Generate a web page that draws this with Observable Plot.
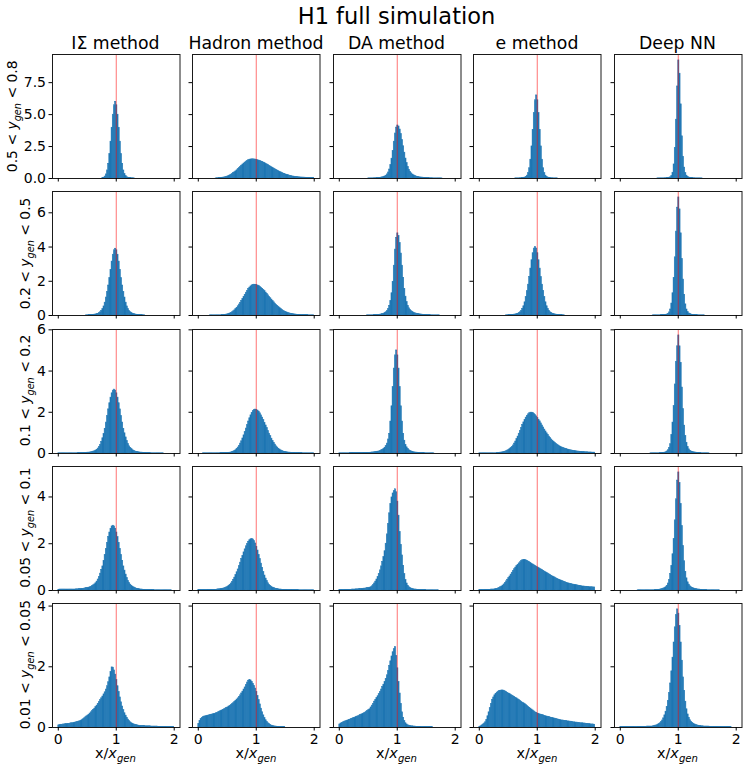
<!DOCTYPE html>
<html>
<head>
<meta charset="utf-8">
<script src="https://cdn.jsdelivr.net/npm/d3@7"></script>
<script src="https://cdn.jsdelivr.net/npm/@observablehq/plot@0.6"></script>
<style>
  body { margin: 0; background: #fff; }
  #chart { position: relative; width: 747px; height: 770px; background: #fff; font-family: "DejaVu Sans", sans-serif; }
</style>
</head>
<body>
<div id="chart"></div>
<script>
// ---------- labels ----------
const figTitle = "H1 full simulation";
const methods = ["IΣ method", "Hadron method", "DA method", "e method", "Deep NN"];
const yGenBins = [["0.5", "0.8"], ["0.2", "0.5"], ["0.1", "0.2"], ["0.05", "0.1"], ["0.01", "0.05"]];
const xTicks = [0, 1, 2];
const yTicks = [[0, 2.5, 5, 7.5], [0, 2, 4, 6], [0, 2, 4, 6], [0, 2, 4], [0, 2, 4]];
const binWidth = 0.02;   // 100 bins on [0, 2]
const refX = 1;

// ---------- densities per bin (rows: 0.5-0.8, 0.2-0.5, 0.1-0.2, 0.05-0.1, 0.01-0.05) ----------
const isigma = [
 [0,0,0,0,0,0,0,0,0,0,
  0,0,0,0,0,0,0,0,0,0,
  0,0,0,0,0,0,0,0,0,0,
  0,0,0,0,0,0,0,0,0.03,0.06,
  0.15,0.32,0.63,1.15,1.91,2.88,3.97,4.99,5.73,6.0,
  5.73,4.99,3.97,2.88,1.91,1.15,0.63,0.35,0.18,0.1,
  0.06,0.04,0.03,0.02,0.02,0.01,0,0,0,0,
  0,0,0,0,0,0,0,0,0,0,
  0,0,0,0,0,0,0,0,0,0,
  0,0,0,0,0,0,0,0,0,0],
 [0,0,0,0,0,0,0,0,0,0,
  0,0,0,0,0,0,0,0,0,0,
  0,0,0,0,0.01,0.01,0.02,0.02,0.03,0.03,
  0.04,0.05,0.06,0.08,0.1,0.14,0.19,0.26,0.37,0.53,
  0.75,1.05,1.38,1.75,2.18,2.67,3.15,3.55,3.81,3.9,
  3.81,3.55,3.15,2.67,2.18,1.75,1.38,1.05,0.75,0.53,
  0.37,0.26,0.19,0.14,0.1,0.08,0.06,0.05,0.04,0.03,
  0.03,0.02,0.02,0.01,0.01,0,0,0,0,0,
  0,0,0,0,0,0,0,0,0,0,
  0,0,0,0,0,0,0,0,0,0],
 [0.01,0.01,0.01,0.01,0.01,0.01,0.01,0.01,0.01,0.01,
  0.01,0.01,0.01,0.01,0.01,0.01,0.01,0.02,0.02,0.02,
  0.02,0.02,0.03,0.03,0.03,0.04,0.04,0.05,0.06,0.07,
  0.09,0.11,0.14,0.18,0.24,0.32,0.42,0.56,0.74,0.95,
  1.2,1.5,1.82,2.14,2.44,2.71,2.92,3.05,3.1,3.05,
  2.92,2.71,2.44,2.14,1.82,1.5,1.2,0.98,0.78,0.6,
  0.46,0.35,0.27,0.21,0.16,0.13,0.1,0.08,0.07,0.06,
  0.05,0.04,0.04,0.03,0.03,0.03,0.02,0.02,0.02,0.02,
  0.01,0.01,0.01,0.01,0.01,0.01,0.01,0.01,0.01,0.01,
  0.01,0,0,0,0,0,0,0,0,0],
 [0.03,0.04,0.04,0.04,0.04,0.04,0.04,0.04,0.04,0.04,
  0.04,0.04,0.04,0.04,0.04,0.05,0.05,0.05,0.06,0.06,
  0.07,0.07,0.08,0.09,0.1,0.11,0.12,0.14,0.16,0.19,
  0.22,0.26,0.31,0.38,0.47,0.58,0.72,0.88,1.03,1.27,
  1.52,1.78,2.04,2.28,2.48,2.64,2.74,2.77,2.74,2.64,
  2.48,2.28,2.04,1.78,1.52,1.27,1.03,0.85,0.68,0.53,
  0.41,0.32,0.25,0.2,0.16,0.13,0.1,0.08,0.07,0.06,
  0.05,0.04,0.04,0.03,0.03,0.02,0.02,0.02,0.02,0.02,
  0.02,0.02,0.02,0.01,0.01,0.01,0.01,0.01,0.01,0.01,
  0.01,0.01,0.01,0.01,0.01,0.01,0.01,0.01,0,0],
 [0.07,0.08,0.09,0.09,0.1,0.1,0.11,0.11,0.12,0.12,
  0.13,0.14,0.14,0.15,0.16,0.17,0.18,0.19,0.2,0.22,
  0.24,0.27,0.3,0.33,0.36,0.39,0.42,0.46,0.5,0.54,
  0.58,0.62,0.67,0.72,0.78,0.84,0.9,0.96,1.02,1.09,
  1.16,1.25,1.36,1.49,1.65,1.83,1.98,1.97,1.88,1.74,
  1.56,1.36,1.17,0.99,0.83,0.69,0.57,0.47,0.39,0.32,
  0.26,0.21,0.17,0.14,0.12,0.1,0.09,0.08,0.07,0.06,
  0.05,0.05,0.05,0.05,0.05,0.04,0.04,0.04,0.04,0.04,
  0.03,0.03,0.03,0.03,0.03,0.03,0.02,0.02,0.02,0.02,
  0.02,0.02,0.02,0.01,0.01,0.01,0.01,0.01,0.01,0.01]
];

const hadron = [
 [0,0,0,0,0,0,0,0,0,0,
  0,0,0,0,0,0.01,0.02,0.02,0.03,0.04,
  0.05,0.07,0.08,0.1,0.13,0.16,0.2,0.25,0.3,0.36,
  0.42,0.49,0.56,0.64,0.73,0.82,0.91,1.0,1.09,1.17,
  1.25,1.32,1.38,1.43,1.47,1.49,1.5,1.5,1.49,1.48,
  1.46,1.43,1.4,1.37,1.33,1.29,1.25,1.2,1.15,1.1,
  1.05,0.99,0.94,0.88,0.83,0.77,0.72,0.67,0.62,0.57,
  0.52,0.48,0.43,0.39,0.36,0.32,0.29,0.26,0.23,0.2,
  0.18,0.16,0.15,0.13,0.12,0.11,0.1,0.09,0.08,0.075,
  0.07,0.065,0.06,0.055,0.05,0.05,0.045,0.04,0.04,0.035],
 [0,0,0,0,0,0,0,0,0,0,
  0.01,0.01,0.01,0.01,0.01,0.01,0.01,0.01,0.01,0.01,
  0.02,0.02,0.03,0.04,0.05,0.07,0.09,0.12,0.15,0.19,
  0.24,0.3,0.37,0.45,0.54,0.64,0.74,0.85,0.97,1.09,
  1.21,1.33,1.44,1.54,1.63,1.7,1.76,1.79,1.8,1.79,
  1.78,1.75,1.72,1.67,1.62,1.56,1.49,1.42,1.34,1.26,
  1.18,1.09,1.01,0.93,0.84,0.77,0.69,0.62,0.55,0.49,
  0.43,0.38,0.33,0.28,0.24,0.21,0.18,0.15,0.13,0.11,
  0.09,0.08,0.07,0.06,0.05,0.04,0.04,0.03,0.03,0.02,
  0.02,0.02,0.02,0.02,0.02,0.01,0.01,0.01,0.01,0.01],
 [0,0,0,0,0.01,0.01,0.01,0.01,0.01,0.01,
  0.01,0.01,0.01,0.01,0.01,0.01,0.01,0.01,0.01,0.02,
  0.02,0.02,0.02,0.02,0.02,0.03,0.03,0.04,0.05,0.07,
  0.09,0.12,0.16,0.22,0.29,0.37,0.48,0.59,0.73,0.88,
  1.04,1.21,1.38,1.55,1.71,1.85,1.97,2.06,2.11,2.13,
  2.12,2.08,2.03,1.95,1.85,1.74,1.62,1.49,1.36,1.23,
  1.09,0.96,0.84,0.72,0.61,0.52,0.43,0.35,0.29,0.23,
  0.19,0.15,0.12,0.1,0.08,0.07,0.06,0.05,0.04,0.04,
  0.03,0.03,0.03,0.03,0.02,0.02,0.02,0.02,0.02,0.02,
  0.01,0.01,0.01,0.01,0.01,0.01,0.01,0.01,0.01,0.01],
 [0.02,0.02,0.02,0.02,0.02,0.02,0.02,0.02,0.03,0.03,
  0.03,0.03,0.03,0.03,0.03,0.03,0.04,0.05,0.05,0.06,
  0.07,0.08,0.09,0.11,0.13,0.16,0.2,0.24,0.3,0.37,
  0.45,0.55,0.66,0.78,0.9,1.04,1.19,1.34,1.48,1.63,
  1.76,1.89,1.99,2.08,2.15,2.19,2.2,2.18,2.11,2.01,
  1.87,1.71,1.52,1.34,1.15,0.96,0.79,0.64,0.51,0.4,
  0.31,0.24,0.19,0.15,0.12,0.1,0.08,0.07,0.06,0.05,
  0.04,0.04,0.03,0.03,0.03,0.03,0.03,0.02,0.02,0.02,
  0.02,0.02,0.02,0.02,0.02,0.02,0.02,0.01,0.01,0.01,
  0.01,0.01,0.01,0.01,0.01,0.01,0.01,0.01,0.01,0.01],
 [0.12,0.22,0.28,0.32,0.34,0.36,0.37,0.38,0.39,0.4,
  0.41,0.42,0.43,0.44,0.45,0.47,0.48,0.5,0.52,0.54,
  0.56,0.58,0.6,0.62,0.64,0.66,0.69,0.71,0.74,0.77,
  0.8,0.84,0.88,0.92,0.96,1.01,1.06,1.12,1.18,1.25,
  1.32,1.4,1.48,1.54,1.57,1.55,1.5,1.44,1.37,1.28,
  1.17,1.04,0.9,0.76,0.62,0.5,0.4,0.31,0.24,0.18,
  0.14,0.11,0.08,0.06,0.05,0.04,0.03,0.03,0.02,0.02,
  0.01,0.01,0.01,0.01,0.01,0,0,0,0,0,
  0,0,0,0,0,0,0,0,0,0,
  0,0,0,0,0,0,0,0,0,0]
];

const da = [
 [0,0,0,0,0,0,0,0,0,0,
  0,0,0,0,0,0,0,0,0,0,
  0,0,0,0,0,0.01,0.01,0.01,0.01,0.01,
  0.02,0.02,0.03,0.03,0.04,0.05,0.07,0.09,0.12,0.16,
  0.22,0.32,0.47,0.7,1.05,1.55,2.16,2.88,3.52,3.98,
  4.15,4.07,3.83,3.47,3.01,2.52,2.02,1.56,1.2,0.9,
  0.68,0.52,0.4,0.31,0.25,0.2,0.16,0.13,0.11,0.09,
  0.08,0.07,0.06,0.05,0.04,0.04,0.03,0.03,0.02,0.02,
  0.02,0.01,0.01,0.01,0.01,0.01,0.01,0.01,0.01,0,
  0,0,0,0,0,0,0,0,0,0],
 [0,0,0,0,0,0,0,0,0,0,
  0,0,0,0,0,0,0,0,0,0,
  0,0,0,0,0.01,0.01,0.01,0.01,0.01,0.01,
  0.02,0.02,0.03,0.03,0.04,0.05,0.06,0.08,0.1,0.14,
  0.19,0.26,0.38,0.56,0.85,1.3,1.97,2.91,3.85,4.54,
  4.8,4.65,4.23,3.62,2.91,2.2,1.56,1.1,0.78,0.56,
  0.42,0.32,0.25,0.2,0.16,0.13,0.11,0.09,0.08,0.07,
  0.06,0.05,0.04,0.04,0.03,0.03,0.02,0.02,0.02,0.01,
  0.01,0.01,0.01,0.01,0.01,0.01,0.01,0,0,0,
  0,0,0,0,0,0,0,0,0,0],
 [0.01,0.01,0.01,0.01,0.01,0.01,0.01,0.01,0.01,0.02,
  0.02,0.02,0.02,0.02,0.02,0.02,0.02,0.02,0.02,0.02,
  0.02,0.03,0.03,0.03,0.03,0.03,0.03,0.04,0.05,0.05,
  0.06,0.07,0.08,0.09,0.1,0.12,0.15,0.18,0.22,0.28,
  0.36,0.48,0.68,0.95,1.55,2.29,3.22,4.12,4.76,5.0,
  4.76,4.12,3.22,2.29,1.55,0.95,0.62,0.42,0.3,0.22,
  0.16,0.12,0.1,0.08,0.06,0.05,0.04,0.04,0.03,0.03,
  0.02,0.02,0.02,0.02,0.01,0.01,0.01,0.01,0.01,0.01,
  0.01,0.01,0,0,0,0,0,0,0,0,
  0,0,0,0,0,0,0,0,0,0],
 [0.02,0.02,0.02,0.02,0.02,0.03,0.03,0.03,0.03,0.03,
  0.03,0.04,0.04,0.04,0.05,0.05,0.05,0.06,0.06,0.07,
  0.07,0.08,0.08,0.09,0.1,0.11,0.12,0.14,0.18,0.23,
  0.3,0.38,0.47,0.58,0.71,0.86,1.03,1.22,1.43,1.68,
  2.0,2.4,2.85,3.3,3.7,3.98,4.15,4.25,4.33,4.2,
  3.8,3.2,2.5,1.95,1.5,1.05,0.7,0.45,0.3,0.2,
  0.14,0.1,0.08,0.06,0.05,0.04,0.04,0.03,0.03,0.02,
  0.02,0.02,0.02,0.02,0.02,0.01,0.01,0.01,0.01,0.01,
  0.01,0.01,0.01,0.01,0.01,0.01,0,0,0,0,
  0,0,0,0,0,0,0,0,0,0],
 [0.1,0.13,0.15,0.17,0.19,0.2,0.22,0.23,0.25,0.26,
  0.28,0.29,0.31,0.32,0.34,0.36,0.37,0.39,0.41,0.43,
  0.45,0.47,0.49,0.52,0.54,0.57,0.6,0.66,0.72,0.78,
  0.85,0.91,0.97,1.03,1.1,1.17,1.25,1.33,1.41,1.5,
  1.6,1.72,1.86,2.02,2.18,2.34,2.48,2.58,2.65,2.35,
  1.95,1.5,1.12,0.78,0.5,0.32,0.21,0.14,0.1,0.07,
  0.06,0.05,0.04,0.04,0.03,0.03,0.02,0.02,0.02,0.02,
  0.02,0.01,0.01,0.01,0.01,0.01,0.01,0.01,0.01,0.01,
  0.01,0,0,0,0,0,0,0,0,0,
  0,0,0,0,0,0,0,0,0,0]
];

const emethod = [
 [0,0,0,0,0,0,0,0,0,0,
  0,0,0,0,0,0,0,0,0,0,
  0,0,0,0,0,0,0,0,0,0,
  0,0.01,0.01,0.01,0.01,0.02,0.02,0.03,0.04,0.07,
  0.12,0.22,0.42,0.8,1.47,2.51,3.81,5.12,6.12,6.5,
  6.12,5.12,3.81,2.51,1.47,0.8,0.42,0.22,0.12,0.07,
  0.04,0.03,0.02,0.02,0.01,0.01,0.01,0.01,0,0,
  0,0,0,0,0,0,0,0,0,0,
  0,0,0,0,0,0,0,0,0,0,
  0,0,0,0,0,0,0,0,0,0],
 [0,0,0,0,0,0,0,0,0,0,
  0,0,0,0,0,0,0,0,0,0,
  0,0,0,0.01,0.01,0.02,0.02,0.03,0.03,0.04,
  0.05,0.06,0.08,0.1,0.14,0.19,0.27,0.38,0.54,0.77,
  1.08,1.42,1.8,2.24,2.74,3.23,3.64,3.91,4.0,3.91,
  3.64,3.23,2.74,2.24,1.8,1.42,1.08,0.77,0.54,0.38,
  0.27,0.19,0.14,0.1,0.08,0.06,0.05,0.04,0.03,0.03,
  0.02,0.02,0.01,0.01,0,0,0,0,0,0,
  0,0,0,0,0,0,0,0,0,0,
  0,0,0,0,0,0,0,0,0,0],
 [0.01,0.01,0.01,0.01,0.01,0.01,0.01,0.01,0.01,0.01,
  0.01,0.01,0.01,0.01,0.01,0.02,0.02,0.03,0.04,0.05,
  0.06,0.07,0.09,0.11,0.14,0.17,0.21,0.26,0.32,0.39,
  0.48,0.58,0.7,0.82,0.96,1.1,1.24,1.38,1.51,1.63,
  1.74,1.83,1.9,1.95,1.98,1.98,1.96,1.92,1.86,1.8,
  1.72,1.64,1.56,1.46,1.36,1.26,1.16,1.07,0.98,0.9,
  0.82,0.75,0.68,0.62,0.57,0.52,0.47,0.43,0.39,0.35,
  0.32,0.29,0.27,0.25,0.23,0.21,0.19,0.18,0.16,0.15,
  0.14,0.13,0.12,0.11,0.1,0.09,0.09,0.08,0.08,0.07,
  0.07,0.06,0.06,0.06,0.05,0.05,0.05,0.04,0.04,0.04],
 [0.02,0.02,0.02,0.02,0.02,0.03,0.03,0.03,0.03,0.03,
  0.04,0.04,0.04,0.05,0.06,0.07,0.09,0.11,0.14,0.17,
  0.21,0.26,0.32,0.39,0.46,0.53,0.6,0.68,0.76,0.84,
  0.91,0.98,1.04,1.1,1.16,1.21,1.26,1.29,1.31,1.31,
  1.29,1.27,1.24,1.21,1.18,1.14,1.11,1.08,1.05,1.02,
  0.99,0.96,0.93,0.9,0.87,0.84,0.81,0.78,0.75,0.72,
  0.69,0.66,0.63,0.6,0.57,0.55,0.52,0.5,0.47,0.45,
  0.43,0.41,0.39,0.37,0.35,0.33,0.31,0.3,0.28,0.27,
  0.26,0.25,0.24,0.23,0.22,0.21,0.2,0.19,0.18,0.17,
  0.17,0.16,0.16,0.15,0.15,0.14,0.14,0.14,0.13,0.13],
 [0.02,0.04,0.07,0.1,0.13,0.17,0.25,0.37,0.5,0.64,
  0.78,0.9,0.99,1.06,1.11,1.15,1.18,1.2,1.21,1.22,
  1.22,1.21,1.19,1.17,1.14,1.12,1.1,1.07,1.05,1.03,
  1.0,0.98,0.96,0.93,0.9,0.88,0.85,0.82,0.8,0.77,
  0.74,0.71,0.68,0.65,0.62,0.59,0.56,0.53,0.5,0.48,
  0.46,0.45,0.43,0.42,0.41,0.4,0.38,0.37,0.36,0.35,
  0.34,0.33,0.32,0.31,0.3,0.29,0.28,0.27,0.26,0.25,
  0.24,0.23,0.23,0.22,0.21,0.21,0.2,0.2,0.19,0.19,
  0.18,0.17,0.17,0.16,0.16,0.15,0.15,0.14,0.14,0.14,
  0.13,0.13,0.12,0.12,0.11,0.11,0.1,0.1,0.1,0.09]
];

const deepnn = [
 [0,0,0,0,0,0,0,0,0,0,
  0,0,0,0,0,0,0,0,0,0,
  0,0,0,0,0,0,0,0,0,0,
  0,0,0.01,0.01,0.01,0.01,0.01,0.01,0.02,0.02,
  0.03,0.04,0.06,0.09,0.18,0.45,1.1,2.4,4.6,7.2,
  9.24,8.2,5.8,3.3,1.7,0.85,0.42,0.22,0.13,0.07,
  0.05,0.04,0.03,0.02,0.02,0.01,0.01,0.01,0.01,0.01,
  0.01,0,0,0,0,0,0,0,0,0,
  0,0,0,0,0,0,0,0,0,0,
  0,0,0,0,0,0,0,0,0,0],
 [0,0,0,0,0,0,0,0,0,0,
  0,0,0,0,0,0,0,0,0,0,
  0,0,0,0,0,0,0,0,0.01,0.01,
  0.01,0.01,0.01,0.01,0.01,0.02,0.02,0.03,0.03,0.04,
  0.06,0.1,0.18,0.35,0.7,1.3,2.2,3.4,4.9,6.3,
  6.9,6.2,4.8,3.3,2.1,1.2,0.65,0.35,0.2,0.12,
  0.08,0.06,0.04,0.03,0.03,0.02,0.02,0.01,0.01,0.01,
  0.01,0.01,0.01,0,0,0,0,0,0,0,
  0,0,0,0,0,0,0,0,0,0,
  0,0,0,0,0,0,0,0,0,0],
 [0,0,0,0,0,0,0,0,0,0,
  0,0,0,0,0,0,0,0,0,0,
  0,0,0,0,0,0,0.01,0.01,0.01,0.01,
  0.01,0.01,0.01,0.01,0.02,0.02,0.03,0.03,0.04,0.06,
  0.1,0.16,0.27,0.45,0.9,1.5,2.3,3.35,4.45,5.2,
  5.73,5.2,4.4,3.2,2.15,1.35,0.85,0.52,0.32,0.2,
  0.13,0.1,0.08,0.06,0.05,0.04,0.03,0.03,0.02,0.02,
  0.01,0.01,0.01,0.01,0.01,0.01,0.01,0,0,0,
  0,0,0,0,0,0,0,0,0,0,
  0,0,0,0,0,0,0,0,0,0],
 [0,0,0,0,0,0,0,0,0,0,
  0,0,0,0,0,0.01,0.01,0.01,0.01,0.01,
  0.01,0.01,0.01,0.01,0.01,0.01,0.01,0.01,0.01,0.01,
  0.02,0.02,0.03,0.03,0.04,0.05,0.06,0.08,0.1,0.14,
  0.2,0.3,0.45,0.7,1.05,1.55,2.2,3.0,3.9,4.7,
  5.05,4.6,3.7,2.75,1.9,1.25,0.8,0.52,0.35,0.25,
  0.18,0.14,0.11,0.09,0.07,0.06,0.05,0.04,0.04,0.03,
  0.03,0.02,0.02,0.02,0.02,0.01,0.01,0.01,0.01,0.01,
  0.01,0.01,0.01,0.01,0.01,0.01,0,0,0,0,
  0,0,0,0,0,0,0,0,0,0],
 [0.01,0.01,0.01,0.01,0.01,0.01,0.01,0.01,0.01,0.01,
  0.01,0.01,0.01,0.01,0.01,0.02,0.02,0.02,0.02,0.02,
  0.02,0.02,0.02,0.03,0.03,0.03,0.03,0.03,0.04,0.05,
  0.06,0.07,0.09,0.11,0.14,0.18,0.23,0.3,0.4,0.52,
  0.68,0.88,1.14,1.45,1.85,2.3,2.8,3.3,3.7,3.89,
  3.75,3.35,2.8,2.2,1.65,1.2,0.85,0.6,0.43,0.32,
  0.24,0.19,0.15,0.12,0.1,0.08,0.07,0.06,0.05,0.05,
  0.04,0.04,0.03,0.03,0.03,0.03,0.03,0.02,0.02,0.02,
  0.02,0.02,0.02,0.02,0.02,0.01,0.01,0.01,0.01,0.01,
  0.01,0.01,0.01,0.01,0.01,0.01,0,0,0,0]
];

const series = [isigma, hadron, da, emethod, deepnn];

// ---------- layout ----------
const FONT = "DejaVu Sans";
const left0 = 51.7, colPitch = 140.5, PW = 127.5;
const top0 = 54.3, rowPitch = 137.1, PH = 124;
const chart = document.getElementById("chart");

for (let r = 0; r < 5; r++) {
  const yMax = d3.max(series, s => d3.max(s[r])) * 1.05;
  const yFmt = r === 0 ? d3.format(".1f") : d3.format("d");
  for (let c = 0; c < 5; c++) {
    const data = series[c][r].map((v, i) => ({x1: i * binWidth, x2: (i + 1) * binWidth, y: v}));
    const svg = Plot.plot({
      width: PW, height: PH,
      marginTop: 0, marginRight: 0, marginBottom: 0, marginLeft: 0,
      x: {domain: [-0.1, 2.1]},
      y: {domain: [0, yMax]},
      style: {fontFamily: FONT, fontSize: "14px", background: "transparent", overflow: "visible", color: "#000"},
      marks: [
        Plot.rectY(data, {x1: "x1", x2: "x2", y1: 0, y2: "y", fill: "#1f77b4",
                          stroke: "#1f77b4", strokeWidth: 0.6, strokeOpacity: 0.9}),
        Plot.ruleX([refX], {stroke: "#ff0000", strokeOpacity: 0.55, strokeWidth: 1}),
        Plot.frame({stroke: "#1a1a1a", strokeWidth: 1}),
        Plot.axisX({ticks: xTicks, tickSize: 3.5, tickPadding: 3, fontSize: 14, label: null,
                    tickFormat: r === 4 ? (d => String(d)) : (() => "")}),
        Plot.axisY({ticks: yTicks[r], tickSize: 3.5, tickPadding: 3, fontSize: 14, label: null,
                    tickFormat: c === 0 ? yFmt : (() => "")})
      ]
    });
    svg.style.position = "absolute";
    svg.style.left = (left0 + c * colPitch) + "px";
    svg.style.top = (top0 + r * rowPitch) + "px";
    chart.appendChild(svg);
  }
}

// ---------- text overlay ----------
const ov = d3.select(chart).append("svg")
  .attr("width", 747).attr("height", 770)
  .style("position", "absolute").style("left", "0px").style("top", "0px")
  .style("overflow", "visible").style("pointer-events", "none")
  .attr("font-family", FONT).attr("fill", "#000");

function rich(sel, segs, fs) {
  let shifted = false;
  for (const s of segs) {
    const t = sel.append("tspan").text(s.t);
    if (s.it) t.attr("font-style", "italic");
    if (s.sub) { t.attr("font-size", fs * 0.7).attr("dy", fs * 0.28); shifted = true; }
    else if (shifted) { t.attr("dy", -fs * 0.28); shifted = false; }
  }
}

ov.append("text").attr("x", 396.5).attr("y", 24).attr("text-anchor", "middle")
  .attr("font-size", 22.5).text(figTitle);

methods.forEach((m, c) => {
  ov.append("text").attr("x", left0 + c * colPitch + PW / 2).attr("y", 49)
    .attr("text-anchor", "middle").attr("font-size", 17.3).text(m);
});

// row labels: placed left of each row's own tick labels (wider labels on the first row)
yGenBins.forEach(([lo, hi], r) => {
  const cy = top0 + r * rowPitch + PH / 2;
  const bx = r === 0 ? 17 : 30;
  const t = ov.append("text").attr("transform", `translate(${bx},${cy}) rotate(-90)`)
    .attr("text-anchor", "middle").attr("font-size", 13.9);
  rich(t, [{t: lo + " < "}, {t: "y", it: true}, {t: "gen", it: true, sub: true}, {t: " < " + hi}], 13.9);
});

methods.forEach((m, c) => {
  const t = ov.append("text").attr("x", left0 + c * colPitch + PW / 2).attr("y", 758)
    .attr("text-anchor", "middle").attr("font-size", 14.4);
  rich(t, [{t: "x/"}, {t: "x", it: true}, {t: "gen", it: true, sub: true}], 14.4);
});
</script>
</body>
</html>
